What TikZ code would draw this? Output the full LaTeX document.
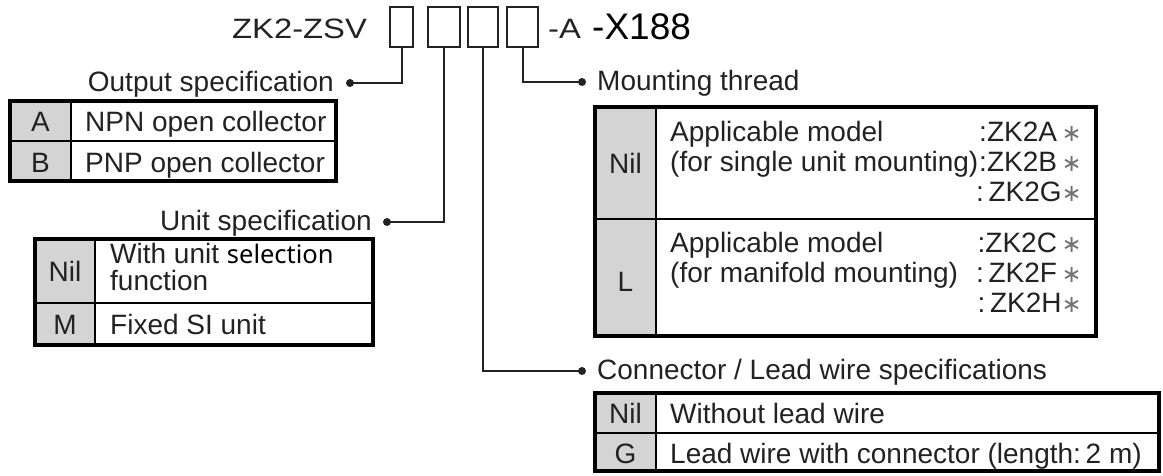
\documentclass[tikz,border=0pt]{standalone}
\usepackage{fontspec}
\setmainfont{Liberation Sans}
\newfontfamily\titlefont{Liberation Sans}[FakeStretch=1.17]
\newfontfamily\selfont{Noto Sans}
\newfontfamily\symfont{DejaVu Sans}
\definecolor{ink}{HTML}{222222}
\definecolor{keygray}{HTML}{D4D4D4}
\tikzset{
	txt/.style={inner sep=0pt, text=ink, font=\fontsize{28}{30}\selectfont},
	codebox/.style={draw=ink, line width=2pt, inner sep=0pt, minimum height=40pt},
	lead/.style={draw=ink, line width=2pt},
	frame/.style={draw=black, line width=4.5pt},
	cellrule/.style={draw=black, line width=2pt},
}
\newcommand{\modelast}{{\symfont\color{black!55}\fontsize{24}{26}\selectfont∗}}

\begin{document}
\begin{tikzpicture}[x=1pt, y=-1pt]
			%%%%% START %%%%%
			\useasboundingbox (0,0) rectangle (1163,475);
			
			% part number
			\node[txt, anchor=base west, font=\titlefont\fontsize{28}{30}\selectfont] (zsv) at (232,38) {ZK2-ZSV};
			\node[codebox, minimum width=23pt] (b1) at (401.5,27) {};
			\node[codebox, minimum width=32pt] (b2) at (444,27) {};
			\node[codebox, minimum width=30pt] (b3) at (483,27) {};
			\node[codebox, minimum width=31pt] (b4) at (522.5,27) {};
			\node[txt, anchor=base west, font=\titlefont\fontsize{28}{30}\selectfont] (suffa) at (548,38) {-A};
			\node[txt, anchor=base west, text=black, font=\fontsize{37}{40}\selectfont] (suffx) at (592,39) {-X188};
			
			% labels and dots
			\node[txt, anchor=base east] (outlbl) at (334,91) {Output specification};
			\node[txt, anchor=base east] (unitlbl) at (372,230) {Unit specification};
			\node[txt, anchor=base west] (mountlbl) at (597,90) {Mounting thread};
			\node[txt, anchor=base west] (connlbl) at (597,379) {Connector / Lead wire specifications};
			\coordinate (d1) at (350,83);
			\coordinate (d2) at (387,222);
			\coordinate (d3) at (582,82);
			\coordinate (d4) at (582,371);
			
			\draw[lead] (b1.south) |- (d1);
			\draw[lead] (b2.south) |- (d2);
			\draw[lead] (b3.south) |- (d4);
			\draw[lead] (b4.south) |- (d3);
			\foreach \d in {d1,d2,d3,d4}
				\fill[ink] (\d) circle (4pt);
			
			% output specification table
			\fill[keygray] (10,101) rectangle (71,181);
			\draw[cellrule] (71,101) -- (71,181);
			\draw[cellrule] (10,141) -- (336,141);
			\draw[frame] (10,101) rectangle (336,181);
			\node[txt, anchor=base] (outa) at (40.5,131) {A};
			\node[txt, anchor=base west] (outnpn) at (85,131) {NPN open collector};
			\node[txt, anchor=base] (outb) at (40.5,172) {B};
			\node[txt, anchor=base west] (outpnp) at (85,172) {PNP open collector};
			
			% unit specification table
			\fill[keygray] (35,239) rectangle (95,345);
			\draw[cellrule] (95,239) -- (95,345);
			\draw[cellrule] (35,303) -- (373,303);
			\draw[frame] (35,239) rectangle (373,345);
			\node[txt, anchor=base] (unitnil) at (65,281) {Nil};
			\node[txt, anchor=base west] (unitsel) at (110,263) {With unit {\selfont\color{black}\fontsize{25.5}{27}\selectfont selection}};
			\node[txt, anchor=base west] (unitfun) at (110,290) {function};
			\node[txt, anchor=base] (unitm) at (65,334) {M};
			\node[txt, anchor=base west] (unitsi) at (110,334) {Fixed SI unit};
			
			% mounting thread table
			\fill[keygray] (595,107) rectangle (656,336);
			\draw[cellrule] (656,107) -- (656,336);
			\draw[cellrule] (595,219) -- (1096,219);
			\draw[frame] (595,107) rectangle (1096,336);
			\node[txt, anchor=base] (mntnil) at (625.5,173) {Nil};
			\node[txt, anchor=base west] (mntapp) at (670,141) {Applicable model};
			\node[txt, anchor=base west] (mntsgl) at (670,171) {(for single unit mounting)};
			\node[txt, anchor=base east] (mnta) at (1082,141) {:ZK2A\,\modelast};
			\node[txt, anchor=base east] (mntb) at (1082,171) {:ZK2B\,\modelast};
			\node[txt, anchor=base east] (mntg) at (1082,201) {:\,ZK2G\modelast};
			\node[txt, anchor=base] (mntl) at (625.5,291) {L};
			\node[txt, anchor=base west] (mntapp2) at (670,252) {Applicable model};
			\node[txt, anchor=base west] (mntman) at (670,282) {(for manifold mounting)};
			\node[txt, anchor=base east] (mntc) at (1082,252) {:ZK2C\,\modelast};
			\node[txt, anchor=base east] (mntf) at (1082,282) {:\,ZK2F\,\modelast};
			\node[txt, anchor=base east] (mnth) at (1082,312) {:\,ZK2H\modelast};
			
			% connector / lead wire table
			\fill[keygray] (595,393) rectangle (656,471);
			\draw[cellrule] (656,393) -- (656,471);
			\draw[cellrule] (595,433) -- (1159,433);
			\draw[frame] (595,393) rectangle (1159,471);
			\node[txt, anchor=base] (connnil) at (625.5,423) {Nil};
			\node[txt, anchor=base west] (connnone) at (670,423) {Without lead wire};
			\node[txt, anchor=base] (conng) at (625.5,463) {G};
			\node[txt, anchor=base west] (connlead) at (670,463) {Lead wire with connector (length:\,2 m)};
			
			%%%%% END %%%%%
\end{tikzpicture}
\end{document}
